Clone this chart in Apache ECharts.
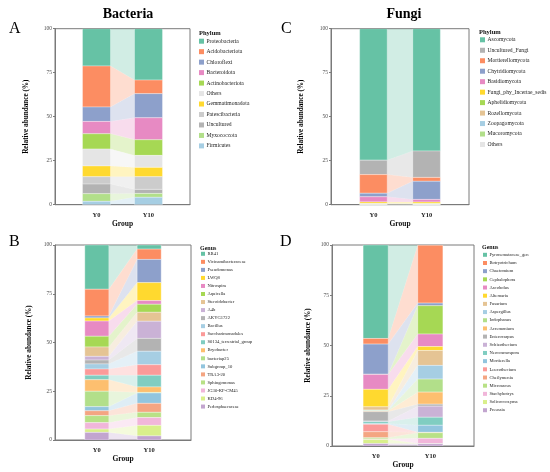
<!DOCTYPE html>
<html>
<head>
<meta charset="utf-8">
<script src="https://cdn.jsdelivr.net/npm/echarts@6/dist/echarts.min.js"></script>
<style>
  html, body { margin: 0; background: #fff; }
  #main { width: 550px; height: 472px; }
</style>
</head>
<body>
<div id="main"></div>
<script>
// 分组
const groups = ['Y0', 'Y10']

// A: bacteria phylum
const bacPhyla = ['Proteobacteria', 'Acidobacteriota', 'Chloroflexi', 'Bacteroidota', 'Actinobacteriota', 'Others',
  'Gemmatimonadota', 'Patescibacteria', 'Uncultured', 'Myxococcota', 'Firmicutes']
const bacPhylaY0 = [21.2, 23.3, 8.2, 7.0, 8.7, 9.6, 6.1, 4.2, 5.45, 4.35, 1.9]
const bacPhylaY10 = [29.2, 7.7, 13.7, 12.5, 8.9, 6.8, 5.3, 7.2, 2.3, 2.2, 4.2]
const bacPhylaColors = ['#66c2a5', '#fc8d62', '#8da0cb', '#e78ac3', '#a6d854', '#e5e5e5',
  '#ffd92f', '#cccccc', '#b3b3b3', '#b2df8a', '#a6cee3']

// B: bacteria genus
const bacGenera = ['RB41', 'Vicinamibacteraceae', 'Pseudomonas', 'LWQ8', 'Nitrospira', 'Aquicella', 'Steroidobacter',
  'A4b', 'AKYG1722', 'Bacillus', 'Saccharimonadales', 'S0134_terrestrial_group', 'Bryobacter', 'bacteriap25',
  'Subgroup_10', 'TRA3-20', 'Sphingomonas', 'JG30-KF-CM45', 'KD4-96', 'Pedosphaeraceae']
const bacGeneraY0 = [22.7, 13.7, 1.0, 1.6, 7.8, 5.5, 4.8, 1.9, 2.0, 2.6, 3.2, 2.3, 5.9, 7.9, 2.1, 2.5, 3.6, 3.3, 1.7, 3.9]
const bacGeneraY10 = [2.1, 5.3, 11.9, 9.2, 1.9, 4.1, 4.6, 8.8, 6.6, 6.9, 5.4, 6.0, 2.8, 0.3, 5.3, 4.6, 2.7, 4.0, 5.4, 2.1]
const genusColors = ['#66c2a5', '#fc8d62', '#8da0cb', '#ffd92f', '#e78ac3', '#a6d854', '#e5c494',
  '#cab2d6', '#b3b3b3', '#a6cee3', '#fb9a99', '#80cdc1', '#fdbf6f', '#b2df8a',
  '#92c5de', '#f4a582', '#b8e186', '#f1b6da', '#d9ef8b', '#c2a5cf']

// C: fungi phylum
const funPhyla = ['Ascomycota', 'Uncultured_Fungi', 'Mortierellomycota', 'Chytridiomycota', 'Basidiomycota',
  'Fungi_phy_Incertae_sedis', 'Aphelidiomycota', 'Rozellomycota', 'Zoopagomycota', 'Mucoromycota', 'Others']
const funPhylaY0 = [74.7, 8.2, 10.6, 2.0, 2.9, 0.9, 0.2, 0.2, 0.1, 0.1, 0.1]
const funPhylaY10 = [69.5, 15.0, 2.2, 10.3, 1.5, 0.9, 0.2, 0.15, 0.1, 0.1, 0.05]
const funPhylaColors = ['#66c2a5', '#b3b3b3', '#fc8d62', '#8da0cb', '#e78ac3', '#ffd92f',
  '#a6d854', '#e5c494', '#a6cee3', '#b2df8a', '#e5e5e5']

// D: fungi genus
const funGenera = ['Pyronemataceae_gen', 'Botryotrichum', 'Chaetomium', 'Cephalophora', 'Ascobolus', 'Alternaria',
  'Fusarium', 'Aspergillus', 'Iodophanus', 'Acremonium', 'Enterocarpus', 'Schizothecium', 'Neocosmospora',
  'Mortierella', 'Leucothecium', 'Cheilymenia', 'Microascus', 'Stachybotrys', 'Solicoccozyma', 'Preussia']
const funGeneraY0 = [46.5, 2.8, 15.0, 0.1, 7.4, 8.7, 1.6, 0.3, 0.2, 0.3, 4.7, 0.3, 1.0, 0.3, 3.7, 3.0, 0.6, 0.3, 2.0, 1.2]
const funGeneraY10 = [0.1, 28.8, 1.3, 14.1, 6.2, 2.0, 7.4, 6.8, 6.5, 6.0, 1.0, 5.5, 4.0, 3.5, 0.1, 0.1, 2.8, 2.6, 0.1, 1.1]
const funGeneraColors = ['#66c2a5', '#fc8d62', '#8da0cb', '#a6d854', '#e78ac3', '#ffd92f', '#e5c494',
  '#a6cee3', '#b2df8a', '#fdbf6f', '#b3b3b3', '#cab2d6', '#80cdc1', '#92c5de',
  '#fb9a99', '#f4a582', '#b8e186', '#f1b6da', '#d9ef8b', '#c2a5cf']

const FONT = 'Liberation Serif'
const FRAME = '#7a7a7a'

// 四个面板的布局
const panels = [
  { names: bacPhyla, y0: bacPhylaY0, y10: bacPhylaY10, colors: bacPhylaColors,
    grid: { left: 55, top: 28.7, width: 135, height: 176 }, hw: 0.27, yGap: 25,
    legendTitle: 'Phylum', lt: { left: 199, top: 29.5, size: 6.5 },
    legend: { left: 199, top: 38.2, icon: 5, gap: 4.47, font: 5.6 } },
  { names: bacGenera, y0: bacGeneraY0, y10: bacGeneraY10, colors: genusColors,
    grid: { left: 55, top: 245, width: 136, height: 195 }, hw: 0.23, yGap: 22,
    legendTitle: 'Genus', lt: { left: 200, top: 245, size: 6 },
    legend: { left: 201, top: 251.3, icon: 4, gap: 3.04, font: 4.6 } },
  { names: funPhyla, y0: funPhylaY0, y10: funPhylaY10, colors: funPhylaColors,
    grid: { left: 331, top: 28.7, width: 138, height: 176 }, hw: 0.26, yGap: 26,
    legendTitle: 'Phylum', lt: { left: 479, top: 28.5, size: 6.5 },
    legend: { left: 480, top: 36.8, icon: 5, gap: 4.47, font: 5.6 } },
  { names: funGenera, y0: funGeneraY0, y10: funGeneraY10, colors: funGeneraColors,
    grid: { left: 332, top: 245, width: 142, height: 201 }, hw: 0.23, yGap: 20,
    legendTitle: 'Genus', lt: { left: 482, top: 244.7, size: 6 },
    legend: { left: 483, top: 252.3, icon: 4, gap: 3.18, font: 4.6 } }
]

const grid = []
const xAxis = []
const yAxis = []
const series = []
const legend = []
const title = [
  { text: 'Bacteria', left: 123, top: 2, textAlign: 'center', textStyle: { fontFamily: FONT, fontSize: 14, fontWeight: 'bold', color: '#000' } },
  { text: 'Fungi', left: 399, top: 2, textAlign: 'center', textStyle: { fontFamily: FONT, fontSize: 14, fontWeight: 'bold', color: '#000' } },
  { text: 'A', left: 4, top: 16, textStyle: { fontFamily: FONT, fontSize: 16, fontWeight: 'normal', color: '#000' } },
  { text: 'C', left: 276, top: 16, textStyle: { fontFamily: FONT, fontSize: 16, fontWeight: 'normal', color: '#000' } },
  { text: 'B', left: 4, top: 229, textStyle: { fontFamily: FONT, fontSize: 16, fontWeight: 'normal', color: '#000' } },
  { text: 'D', left: 275, top: 229, textStyle: { fontFamily: FONT, fontSize: 16, fontWeight: 'normal', color: '#000' } }
]

// 每个色块画成一个多边形: [x左, x右, 左下, 左上, 右下, 右上, 透明度]
function renderBlock (params, api) {
  const x0 = api.value(0)
  const x1 = api.value(1)
  const pts = [
    api.coord([x0, api.value(2)]),
    api.coord([x0, api.value(3)]),
    api.coord([x1, api.value(5)]),
    api.coord([x1, api.value(4)])
  ]
  return {
    type: 'polygon',
    shape: { points: pts },
    style: { fill: api.visual('color'), opacity: api.value(6), stroke: 'rgba(255,255,255,0.8)', lineWidth: 0.4 }
  }
}

panels.forEach(function (p, k) {
  grid.push(Object.assign({ show: true, borderColor: FRAME, borderWidth: 1, backgroundColor: 'transparent' }, p.grid))
  xAxis.push({
    type: 'value', gridIndex: k, min: 0.2, max: 2.8,
    axisLine: { show: true, lineStyle: { color: FRAME } },
    axisTick: { show: false },
    splitLine: { show: false },
    axisLabel: {
      customValues: [1, 2],
      formatter: function (v) { return v === 1 ? groups[0] : (v === 2 ? groups[1] : '') },
      fontFamily: FONT, fontSize: 6.5, fontWeight: 'bold', color: '#222', margin: 7
    },
    name: 'Group', nameLocation: 'middle', nameGap: 14,
    nameTextStyle: { fontFamily: FONT, fontSize: 7.5, fontWeight: 'bold', color: '#111' }
  })
  yAxis.push({
    type: 'value', gridIndex: k, min: 0, max: 100, interval: 25,
    axisLine: { show: true, lineStyle: { color: FRAME } },
    axisTick: { show: true, length: 2, lineStyle: { color: FRAME } },
    splitLine: { show: false },
    axisLabel: { fontFamily: FONT, fontSize: 5.5, color: '#4d4d4d', margin: 3 },
    name: 'Relative abundance (%)', nameLocation: 'middle', nameGap: p.yGap,
    nameTextStyle: { fontFamily: FONT, fontSize: 7.2, fontWeight: 'bold', color: '#000' }
  })

  // 从下往上累加：图例最后一项在最底部
  let b0 = 0
  let b1 = 0
  const blocks = []
  for (let i = p.names.length - 1; i >= 0; i--) {
    const t0 = b0 + p.y0[i]
    const t1 = b1 + p.y10[i]
    blocks.unshift({
      name: p.names[i],
      color: p.colors[i],
      data: [
        [1 - p.hw, 1 + p.hw, b0, t0, b0, t0, 1],
        [1 + p.hw, 2 - p.hw, b0, t0, b1, t1, 0.3],
        [2 - p.hw, 2 + p.hw, b1, t1, b1, t1, 1]
      ]
    })
    b0 = t0
    b1 = t1
  }
  blocks.forEach(function (b) {
    series.push({
      type: 'custom', name: b.name, xAxisIndex: k, yAxisIndex: k,
      silent: true, clip: true,
      itemStyle: { color: b.color },
      renderItem: renderBlock,
      encode: { x: [0, 1], y: [2, 3, 4, 5] },
      data: b.data
    })
  })

  legend.push({
    orient: 'vertical', left: p.legend.left, top: p.legend.top, padding: 0,
    itemWidth: p.legend.icon, itemHeight: p.legend.icon, itemGap: p.legend.gap,
    icon: 'rect', selectedMode: false,
    textStyle: { fontFamily: FONT, fontSize: p.legend.font, lineHeight: p.legend.icon, color: '#222', padding: [0, 0, 0, -2.5] },
    data: p.names.map(function (n, i) {
      return { name: n, itemStyle: { color: p.colors[i], borderWidth: 0 } }
    })
  })

  title.push({
    text: p.legendTitle, left: p.lt.left, top: p.lt.top, padding: 0,
    textStyle: { fontFamily: FONT, fontSize: p.lt.size, fontWeight: 'bold', color: '#111' }
  })
})

const chart = echarts.init(document.getElementById('main'))
chart.setOption({
  animation: false,
  backgroundColor: '#fff',
  textStyle: { fontFamily: FONT },
  title: title,
  grid: grid,
  xAxis: xAxis,
  yAxis: yAxis,
  legend: legend,
  series: series
})
</script>
</body>
</html>
